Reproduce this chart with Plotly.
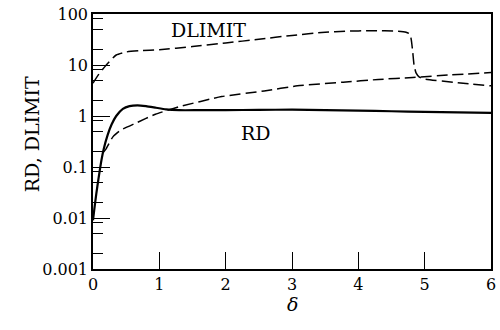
import plotly.graph_objects as go

# RD (solid)
rd_x = [0, 0.02, 0.05, 0.08, 0.12, 0.16, 0.22, 0.28, 0.35, 0.45, 0.55, 0.67, 0.8, 0.95,
        1.1, 1.3, 1.6, 2.0, 2.5, 3.0, 3.5, 4.0, 4.5, 5.0, 5.5, 6.0]
rd_y = [0.009, 0.015, 0.03, 0.056, 0.12, 0.22, 0.42, 0.68, 1.0, 1.38, 1.56, 1.62, 1.56, 1.45,
        1.35, 1.3, 1.3, 1.3, 1.32, 1.33, 1.3, 1.27, 1.24, 1.2, 1.18, 1.15]

# DLIMIT upper branch (dashed)
dl_x = [0, 0.08, 0.2, 0.35, 0.5, 0.7, 1.0, 1.5, 2.0, 2.5, 3.0, 3.5, 3.8, 4.2, 4.6,
        4.72, 4.78, 4.8, 4.82, 4.84, 4.87, 4.92, 5.0, 5.5, 6.0]
dl_y = [4.4, 6.4, 10, 15.7, 18, 19, 20, 23, 27, 32, 38, 44, 46, 47, 46,
        44, 40, 30, 18, 10, 7, 5.8, 5.3, 4.5, 3.9]

# DLIMIT lower curve (dashed)
dl2_x = [0.15, 0.2, 0.3, 0.42, 0.64, 0.94, 1.3, 1.94, 2.58, 3.08, 3.77, 4.3, 4.82, 5.4, 6.0]
dl2_y = [0.19, 0.23, 0.39, 0.53, 0.72, 1.08, 1.52, 2.4, 3.1, 3.9, 4.6, 5.2, 5.7, 6.4, 7.1]

y_ticks = [0.001, 0.01, 0.1, 1, 10, 100]
y_ticktext = ["0.001", "0.01", "0.1", "1", "10", "100"]
y_minor = [m * 10 ** e for e in range(-3, 2) for m in (2, 5, 8)]
x_ticks = [0, 1, 2, 3, 4, 5, 6]

FONT = "DejaVu Serif"

fig = go.Figure()
fig.add_trace(go.Scatter(x=dl_x, y=dl_y, mode="lines", line=dict(color="black", width=1.5, dash="11px,5px", shape="spline", smoothing=0.5), showlegend=False))
fig.add_trace(go.Scatter(x=dl2_x, y=dl2_y, mode="lines", line=dict(color="black", width=1.5, dash="11px,5px", shape="spline", smoothing=0.5), showlegend=False))
fig.add_trace(go.Scatter(x=rd_x, y=rd_y, mode="lines", line=dict(color="black", width=2.2, shape="spline", smoothing=0.5), showlegend=False))

fig.update_layout(
    width=500, height=330,
    margin=dict(l=93, r=4, t=14, b=61),
    paper_bgcolor="white", plot_bgcolor="white",
    font=dict(family=FONT, color="black", size=16),
    xaxis=dict(range=[0, 6], tickmode="array", tickvals=x_ticks, ticks="inside", ticklen=17, tickwidth=1.2,
               tickcolor="black", showline=True, linecolor="black", linewidth=1.5, mirror=True,
               showgrid=False, zeroline=False, ticklabeloverflow="allow",
               tickfont=dict(size=16, family=FONT)),
    yaxis=dict(type="log", range=[-3, 2], tickmode="array", tickvals=y_ticks, ticktext=y_ticktext,
               ticks="inside", ticklen=17, tickwidth=1.2, tickcolor="black",
               showline=True, linecolor="black", linewidth=1.5, mirror=True,
               showgrid=False, zeroline=False, tickfont=dict(size=16, family=FONT)),
    # overlay axis carrying the short minor ticks (2, 5, 8 per decade)
    yaxis2=dict(type="log", range=[-3, 2], overlaying="y", side="left", anchor="x",
                tickmode="array", tickvals=y_minor, ticks="inside", ticklen=10, tickwidth=1.2,
                tickcolor="black", showticklabels=False, showline=False, showgrid=False,
                zeroline=False),
    annotations=[
        dict(text="DLIMIT", x=1.74, y=1.69, xref="x", yref="y", showarrow=False,
             font=dict(size=19, family=FONT)),
        dict(text="RD", x=2.45, y=-0.327, xref="x", yref="y", showarrow=False,
             font=dict(size=19, family=FONT)),
        dict(text="RD, DLIMIT", x=-0.1856, y=0.529, xref="paper", yref="paper", showarrow=False,
             textangle=-90, font=dict(size=19, family=FONT)),
        dict(text="<i>δ</i>", x=0.5, y=-0.188, xref="paper", yref="paper", showarrow=False,
             font=dict(size=19, family=FONT)),
    ],
)
# an invisible-free way to activate yaxis2: attach an empty trace
fig.add_trace(go.Scatter(x=[], y=[], yaxis="y2", showlegend=False, hoverinfo="skip"))

fig.write_html("out.html")
